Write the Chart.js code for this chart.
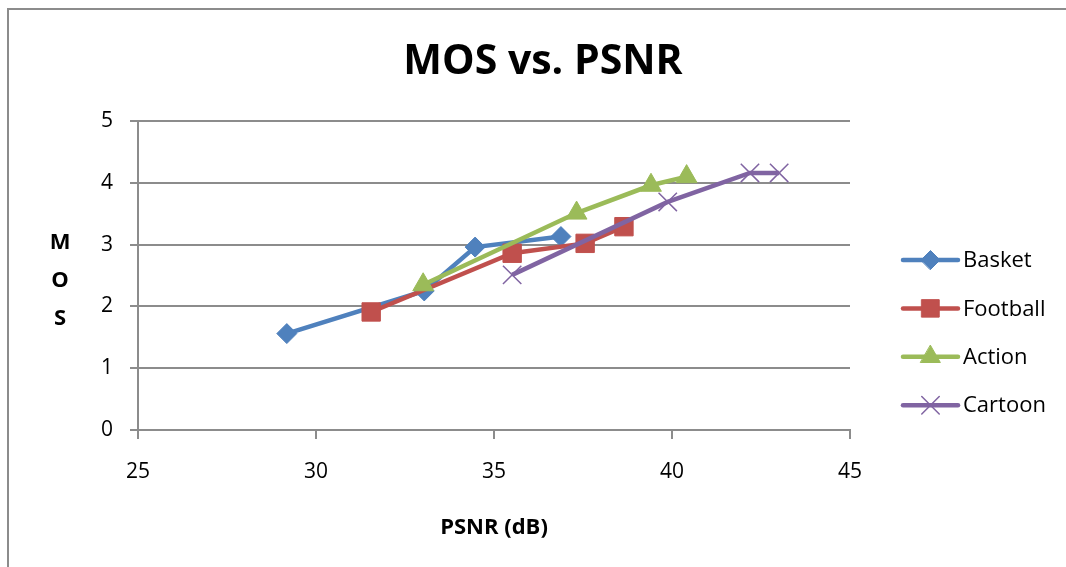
<!DOCTYPE html>
<html>
<head>
<meta charset="utf-8">
<title>MOS vs. PSNR</title>
<script src="https://cdn.jsdelivr.net/npm/chart.js@4.4.0/dist/chart.umd.min.js"></script>
<style>
  html, body { margin: 0; padding: 0; background: #fff; }
  #wrap { width: 1066px; height: 567px; }
</style>
</head>
<body>
<div id="wrap"><canvas id="c" width="1066" height="567"></canvas></div>
<script>
// ---- data ----
const chartTitle = 'MOS vs. PSNR';
const xAxisTitle = 'PSNR (dB)';
const yAxisTitle = ['M', 'O', 'S'];
const seriesNames = ['Basket', 'Football', 'Action', 'Cartoon'];

const basketPsnr   = [29.18, 33.04, 34.47, 36.88];
const basketMos    = [1.56, 2.25, 2.96, 3.13];
const footballPsnr = [31.55, 35.51, 37.56, 38.65];
const footballMos  = [1.91, 2.86, 3.02, 3.29];
const actionPsnr   = [33.01, 37.32, 39.41, 40.41];
const actionMos    = [2.35, 3.51, 3.96, 4.10];
const cartoonPsnr  = [35.51, 39.88, 42.19, 43.01];
const cartoonMos   = [2.51, 3.69, 4.16, 4.16];

const xTicks = [25, 30, 35, 40, 45];
const yTicks = [0, 1, 2, 3, 4, 5];

// ---- styling ----
const FONT = "'Open Sans', 'DejaVu Sans', sans-serif";
const GRID = '#8c8c8c';
const seriesStyle = [
  { color: '#4F81BD', pointStyle: 'rectRot',  radius: 10,  markerBorder: 1 },
  { color: '#C0504D', pointStyle: 'rect',     radius: 13,  markerBorder: 1 },
  { color: '#9BBB59', pointStyle: 'triangle', radius: 12,  markerBorder: 1 },
  { color: '#8064A2', pointStyle: 'crossRot', radius: 13,  markerBorder: 1.5 }
];

const pairs = (xs, ys) => xs.map((x, i) => ({ x: x, y: ys[i] }));
const seriesData = [
  pairs(basketPsnr, basketMos),
  pairs(footballPsnr, footballMos),
  pairs(actionPsnr, actionMos),
  pairs(cartoonPsnr, cartoonMos)
];

const datasets = seriesNames.map((name, i) => {
  const s = seriesStyle[i];
  return {
    label: name,
    data: seriesData[i],
    borderColor: s.color,
    backgroundColor: s.color,
    borderWidth: 4.5,
    tension: 0,
    pointStyle: s.pointStyle,
    pointRadius: s.radius,
    pointBackgroundColor: s.color,
    pointBorderColor: s.color,
    pointBorderWidth: s.markerBorder,
    // later series are painted over earlier ones
    order: seriesNames.length - i
  };
});

// frame, chart title, stacked y title and the line+marker legend
const decor = {
  id: 'decor',
  beforeDraw(chart) {
    const ctx = chart.ctx;
    ctx.save();
    ctx.fillStyle = '#fff';
    ctx.fillRect(0, 0, chart.width, chart.height);
    ctx.strokeStyle = GRID;
    ctx.lineWidth = 2;
    ctx.strokeRect(8, 9, chart.width + 40, chart.height + 40);
    ctx.restore();
  },
  afterDraw(chart) {
    const ctx = chart.ctx;
    const area = chart.chartArea;
    ctx.save();
    ctx.fillStyle = '#000';
    ctx.textAlign = 'center';
    ctx.textBaseline = 'middle';

    ctx.font = "bold 41px " + FONT;
    ctx.fillText(chartTitle, 543, area.top - 59);

    ctx.font = "bold 22px " + FONT;
    yAxisTitle.forEach((ch, i) => {
      ctx.fillText(ch, 60, area.top + 122 + i * 38);
    });

    // legend
    const lx0 = area.right + 53, lx1 = area.right + 108;
    ctx.font = "22px " + FONT;
    ctx.textAlign = 'left';
    chart.data.datasets.forEach((ds, i) => {
      const y = area.top + 139 + i * 48.4;
      ctx.strokeStyle = ds.borderColor;
      ctx.lineWidth = 4.5;
      ctx.lineCap = 'round';
      ctx.beginPath();
      ctx.moveTo(lx0, y);
      ctx.lineTo(lx1, y);
      ctx.stroke();
      ctx.fillStyle = ds.pointBackgroundColor;
      ctx.strokeStyle = ds.pointBorderColor;
      ctx.lineWidth = ds.pointBorderWidth;
      Chart.helpers.drawPoint(ctx, {
        pointStyle: ds.pointStyle,
        radius: ds.pointRadius * 0.95,
        rotation: 0,
        borderWidth: ds.pointBorderWidth
      }, (lx0 + lx1) / 2, y);
      ctx.fillStyle = '#000';
      ctx.fillText(ds.label, lx1 + 5, y + 1);
    });
    ctx.restore();
  }
};

new Chart(document.getElementById('c'), {
  type: 'line',
  data: { datasets: datasets },
  plugins: [decor],
  options: {
    responsive: false,
    animation: false,
    events: [],
    layout: { padding: { top: 121, right: 216, left: 0, bottom: 0 } },
    plugins: {
      legend: { display: false },
      title: { display: false },
      tooltip: { enabled: false }
    },
    scales: {
      x: {
        type: 'linear',
        min: xTicks[0],
        max: xTicks[xTicks.length - 1],
        afterBuildTicks: (s) => { s.ticks = xTicks.map(v => ({ value: v })); },
        afterFit: (s) => { s.height = 137; },
        ticks: { color: '#000', font: { family: FONT, size: 21 }, padding: 20, maxRotation: 0 },
        grid: { drawOnChartArea: false, drawTicks: true, tickLength: 9, color: GRID, lineWidth: 2 },
        border: { display: true, color: GRID, width: 2 },
        title: {
          display: true,
          text: xAxisTitle,
          color: '#000',
          font: { family: FONT, size: 22, weight: 'bold' },
          padding: { top: 0, bottom: 26 }
        }
      },
      y: {
        type: 'linear',
        min: yTicks[0],
        max: yTicks[yTicks.length - 1],
        afterBuildTicks: (s) => { s.ticks = yTicks.map(v => ({ value: v })); },
        afterFit: (s) => { s.width = 138; },
        ticks: { color: '#000', font: { family: FONT, size: 21 }, padding: 17 },
        grid: { drawOnChartArea: true, drawTicks: true, tickLength: 8, color: GRID, lineWidth: 2 },
        border: { display: true, color: GRID, width: 2 },
        title: { display: false }
      }
    }
  }
});
</script>
</body>
</html>
